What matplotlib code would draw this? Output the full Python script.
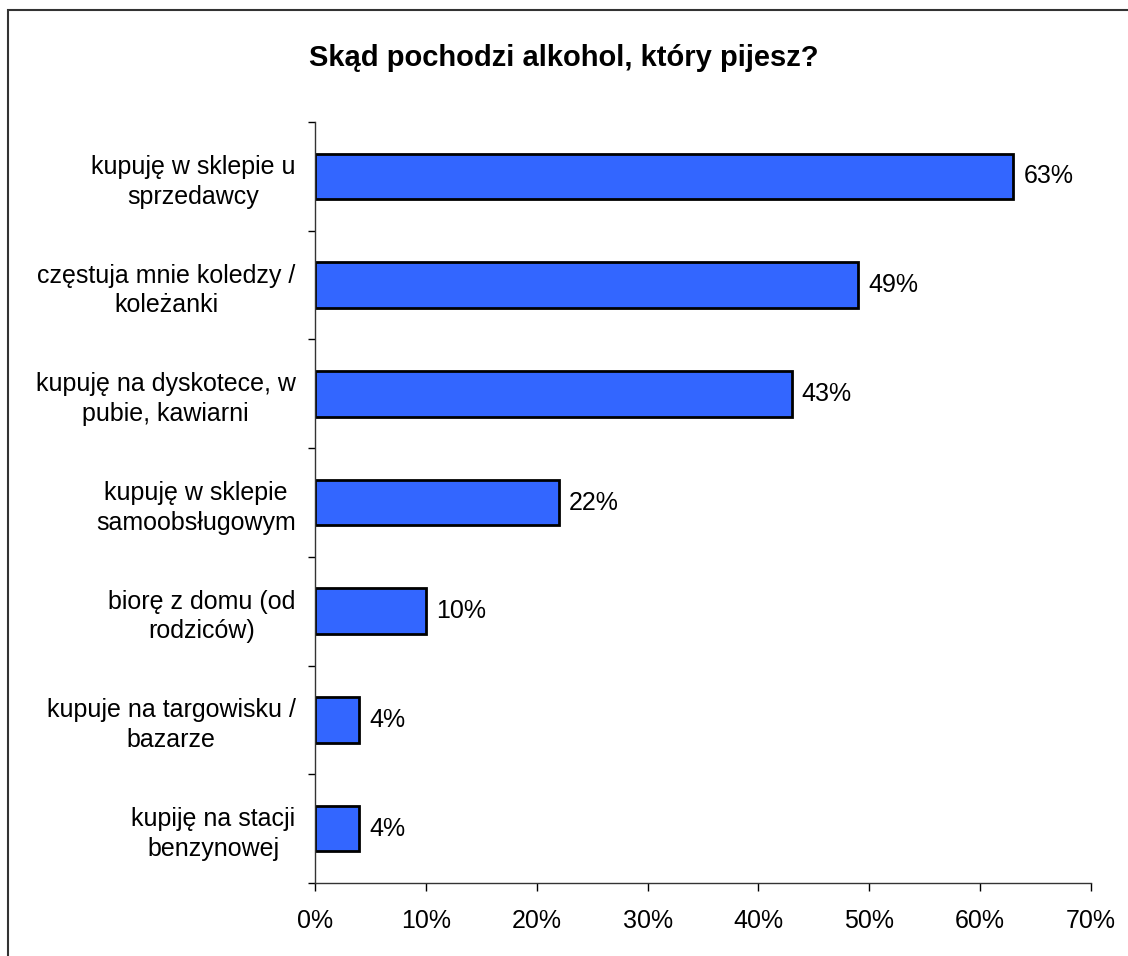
import matplotlib
matplotlib.use("Agg")
import matplotlib.pyplot as plt
from matplotlib.patches import Rectangle
import numpy as np

# data, top to bottom as in the chart
categories = [
    "kupuję w sklepie u\nsprzedawcy",
    "częstuja mnie koledzy /\nkoleżanki",
    "kupuję na dyskotece, w\npubie, kawiarni",
    "kupuję w sklepie\nsamoobsługowym",
    "biorę z domu (od\nrodziców)",
    "kupuje na targowisku /\nbazarze",
    "kupiję na stacji\nbenzynowej",
]
values = [63, 49, 43, 22, 10, 4, 4]
x_ticks = [0, 10, 20, 30, 40, 50, 60, 70]
title = "Skąd pochodzi alkohol, który pijesz?"

plt.rcParams['font.family'] = ['Liberation Sans', 'DejaVu Sans']

fig = plt.figure(figsize=(11.28, 9.56), dpi=100)
ax = fig.add_axes([315 / 1128, 1 - 883 / 956, 776 / 1128, 761 / 956])

y = np.arange(len(categories))
ax.barh(y, values, height=0.42, color="#3366FF", edgecolor="black", linewidth=2)

for yi, v in zip(y, values):
    ax.text(v + 0.9, yi, f"{v}%", va="center", ha="left", fontsize=18)

ax.set_xlim(0, 70)
ax.set_ylim(len(categories) - 0.5, -0.5)

ax.set_xticks(x_ticks)
ax.set_xticklabels([f"{t}%" for t in x_ticks], fontsize=18)
ax.tick_params(axis="x", direction="out", length=6, width=1, pad=13)

# category boundaries get the tick marks, labels sit between them
ax.set_yticks(np.arange(-0.5, len(categories), 1.0))
ax.set_yticklabels([])
ax.set_yticks(y, minor=True)
ax.set_yticklabels(categories, minor=True, fontsize=18,
                   multialignment="center", linespacing=1.3)
ax.tick_params(axis="y", which="major", direction="out", length=5, width=1)
ax.tick_params(axis="y", which="minor", length=0, pad=14)

for s in ["top", "right"]:
    ax.spines[s].set_visible(False)
for s in ["left", "bottom"]:
    ax.spines[s].set_color("#333333")
    ax.spines[s].set_linewidth(1)

fig.text(0.5, 1 - 66 / 956, title, ha="center", va="baseline",
         fontsize=21, fontweight="bold")

# frame around the chart area
fig.patches.append(Rectangle((8 / 1128, -0.1), 1.2, 1.1 - 10 / 956,
                             transform=fig.transFigure, fill=False,
                             edgecolor="#333333", linewidth=1.5))

fig.savefig("out.png", dpi=100)
